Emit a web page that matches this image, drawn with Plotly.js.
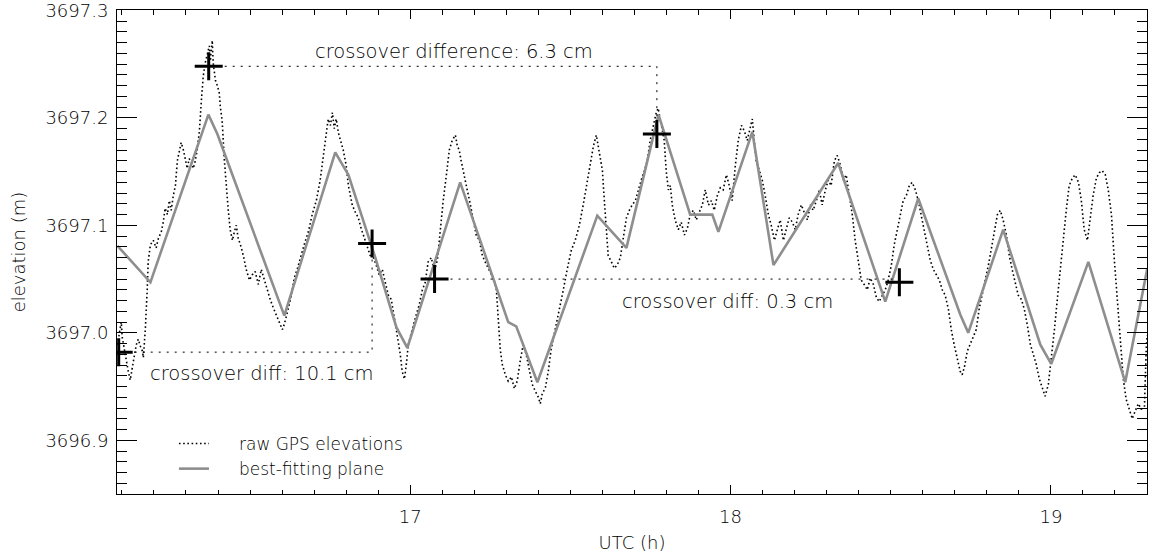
<!DOCTYPE html>
<html>
<head>
<meta charset="utf-8">
<script src="https://cdn.plot.ly/plotly-3.0.1.min.js"></script>
<style>
  html, body { margin: 0; padding: 0; background: #fff; }
  #chart { width: 1153px; height: 558px; }
</style>
</head>
<body>
<div id="chart"></div>
<script>
// Raw GPS elevation samples (UTC hours, metres)
const rawTime = [
  16.086,16.092,16.098,16.101,16.107,16.114,16.120,16.126,16.132,16.139,16.145,16.151,16.157,16.164,16.167,16.173,16.179,16.182,16.189,16.198,
  16.207,16.214,16.223,16.229,16.235,16.242,16.248,16.254,16.260,16.267,16.273,16.279,16.285,16.292,16.298,16.304,16.310,16.317,16.323,16.329,
  16.335,16.342,16.348,16.354,16.360,16.367,16.373,16.376,16.382,16.385,16.392,16.398,16.404,16.407,16.413,16.420,16.426,16.432,16.438,16.445,
  16.451,16.457,16.463,16.470,16.479,16.488,16.498,16.507,16.516,16.526,16.535,16.545,16.554,16.563,16.573,16.582,16.591,16.601,16.607,16.613,
  16.619,16.629,16.638,16.648,16.657,16.669,16.682,16.694,16.707,16.719,16.729,16.738,16.744,16.751,16.757,16.763,16.769,16.776,16.782,16.791,
  16.800,16.807,16.813,16.819,16.829,16.838,16.847,16.857,16.866,16.875,16.885,16.894,16.903,16.913,16.922,16.932,16.941,16.950,16.960,16.969,
  16.975,16.982,16.988,16.994,17.000,17.010,17.019,17.028,17.038,17.047,17.056,17.066,17.075,17.085,17.094,17.103,17.113,17.122,17.131,17.141,
  17.147,17.153,17.159,17.169,17.178,17.188,17.197,17.206,17.216,17.225,17.234,17.244,17.253,17.262,17.269,17.275,17.281,17.287,17.297,17.306,
  17.316,17.325,17.334,17.344,17.353,17.362,17.372,17.381,17.390,17.400,17.406,17.412,17.422,17.431,17.440,17.453,17.465,17.478,17.490,17.503,
  17.515,17.528,17.540,17.553,17.562,17.572,17.581,17.587,17.593,17.600,17.606,17.612,17.618,17.628,17.637,17.646,17.656,17.665,17.675,17.684,
  17.693,17.703,17.712,17.721,17.731,17.740,17.749,17.759,17.768,17.774,17.781,17.787,17.793,17.799,17.806,17.812,17.818,17.827,17.837,17.846,
  17.856,17.865,17.874,17.884,17.893,17.902,17.912,17.921,17.931,17.940,17.949,17.959,17.968,17.977,17.987,17.996,18.005,18.015,18.024,18.034,
  18.043,18.052,18.062,18.068,18.074,18.080,18.090,18.099,18.108,18.118,18.127,18.137,18.146,18.155,18.165,18.174,18.183,18.193,18.202,18.211,
  18.221,18.230,18.240,18.249,18.258,18.268,18.277,18.286,18.296,18.305,18.314,18.324,18.333,18.343,18.352,18.361,18.371,18.380,18.389,18.399,
  18.408,18.417,18.427,18.436,18.446,18.455,18.464,18.474,18.483,18.492,18.502,18.511,18.520,18.530,18.539,18.549,18.558,18.567,18.577,18.586,
  18.595,18.605,18.614,18.623,18.633,18.642,18.652,18.661,18.670,18.680,18.689,18.698,18.708,18.717,18.723,18.730,18.739,18.748,18.758,18.767,
  18.776,18.786,18.795,18.805,18.814,18.823,18.833,18.842,18.851,18.861,18.870,18.879,18.889,18.898,18.908,18.917,18.926,18.936,18.945,18.954,
  18.964,18.973,18.982,18.992,19.001,19.011,19.020,19.029,19.039,19.048,19.057,19.067,19.076,19.086,19.095,19.104,19.114,19.123,19.132,19.142,
  19.151,19.160,19.170,19.179,19.189,19.198,19.207,19.217,19.226,19.235,19.245,19.254,19.263,19.273,19.282,19.292,19.298,19.301
];
const rawElev = [
  3696.989,3697.001,3697.010,3696.996,3696.985,3696.973,3696.964,3696.956,3696.968,3696.979,3696.989,3696.994,3696.988,3696.983,3696.977,3697.003,3697.040,3697.066,3697.082,3697.086,
  3697.079,3697.088,3697.094,3697.103,3697.116,3697.110,3697.123,3697.114,3697.127,3697.137,3697.160,3697.170,3697.177,3697.170,3697.160,3697.153,3697.162,3697.159,3697.153,3697.160,
  3697.170,3697.188,3697.216,3697.239,3697.251,3697.260,3697.267,3697.253,3697.272,3697.251,3697.235,3697.230,3697.223,3697.211,3697.197,3697.160,3697.133,3697.114,3697.096,3697.086,
  3697.094,3697.100,3697.088,3697.082,3697.072,3697.059,3697.049,3697.054,3697.057,3697.045,3697.059,3697.049,3697.038,3697.031,3697.023,3697.017,3697.010,3697.003,3697.008,3697.014,
  3697.022,3697.035,3697.051,3697.060,3697.070,3697.082,3697.094,3697.110,3697.123,3697.142,3697.165,3697.188,3697.199,3697.193,3697.205,3697.190,3697.199,3697.186,3697.179,3697.170,
  3697.156,3697.137,3697.128,3697.119,3697.112,3697.107,3697.097,3697.088,3697.079,3697.072,3697.070,3697.063,3697.054,3697.059,3697.047,3697.035,3697.031,3697.014,3696.998,3696.980,
  3696.964,3696.957,3696.971,3696.989,3696.996,3697.008,3697.017,3697.026,3697.040,3697.047,3697.066,3697.070,3697.057,3697.068,3697.097,3697.123,3697.147,3697.170,3697.179,3697.184,
  3697.174,3697.170,3697.160,3697.147,3697.133,3697.119,3697.103,3697.091,3697.086,3697.072,3697.066,3697.060,3697.054,3697.049,3697.040,3697.012,3696.985,3696.971,3696.961,3696.955,
  3696.959,3696.948,3696.955,3696.975,3696.989,3696.980,3696.966,3696.952,3696.946,3696.940,3696.934,3696.943,3696.949,3696.964,3696.985,3697.003,3697.022,3697.040,3697.059,3697.077,
  3697.086,3697.100,3697.119,3697.142,3697.160,3697.174,3697.184,3697.174,3697.165,3697.151,3697.123,3697.096,3697.072,3697.066,3697.060,3697.063,3697.070,3697.088,3697.107,3697.114,
  3697.119,3697.123,3697.133,3697.142,3697.151,3697.160,3697.179,3697.193,3697.205,3697.209,3697.199,3697.190,3697.179,3697.151,3697.133,3697.137,3697.119,3697.105,3697.096,3697.103,
  3697.091,3697.097,3697.110,3697.114,3697.105,3697.112,3697.119,3697.133,3697.119,3697.123,3697.114,3697.128,3697.135,3697.133,3697.147,3697.137,3697.123,3697.156,3697.179,3697.193,
  3697.188,3697.179,3697.190,3697.199,3697.179,3697.160,3697.151,3697.142,3697.128,3697.110,3697.100,3697.086,3697.096,3697.105,3697.086,3697.096,3697.107,3697.103,3697.096,3697.110,
  3697.119,3697.112,3697.105,3697.119,3697.114,3697.123,3697.133,3697.119,3697.133,3697.142,3697.137,3697.160,3697.165,3697.156,3697.142,3697.147,3697.128,3697.110,3697.086,3697.066,
  3697.049,3697.045,3697.040,3697.051,3697.045,3697.033,3697.029,3697.035,3697.040,3697.049,3697.063,3697.082,3697.096,3697.110,3697.123,3697.128,3697.137,3697.140,3697.133,3697.123,
  3697.110,3697.096,3697.082,3697.068,3697.059,3697.054,3697.049,3697.040,3697.035,3697.022,3697.003,3696.989,3696.975,3696.964,3696.961,3696.968,3696.983,3696.989,3696.996,3697.003,
  3697.022,3697.035,3697.049,3697.063,3697.077,3697.091,3697.110,3697.114,3697.105,3697.091,3697.072,3697.059,3697.045,3697.035,3697.031,3697.022,3697.008,3696.989,3696.980,3696.971,
  3696.957,3696.948,3696.941,3696.952,3696.975,3697.003,3697.031,3697.059,3697.086,3697.114,3697.137,3697.144,3697.147,3697.140,3697.123,3697.096,3697.086,3697.110,3697.128,3697.144,
  3697.149,3697.151,3697.147,3697.133,3697.110,3697.068,3697.031,3696.994,3696.957,3696.938,3696.929,3696.920,3696.927,3696.934,3696.929,3696.931,3696.989,3696.998
];

// Best-fitting plane evaluated along the track
const planeTime = [16.086,16.189,16.370,16.398,16.607,16.766,16.807,16.891,16.957,16.991,17.156,17.281,17.306,17.331,17.397,17.584,17.675,17.775,17.874,17.943,17.962,18.068,18.134,18.336,18.483,18.586,18.717,18.742,18.851,18.967,19.001,19.117,19.232,19.301];
const planeElev = [3697.081,3697.047,3697.203,3697.185,3697.016,3697.168,3697.147,3697.070,3697.005,3696.986,3697.140,3697.031,3697.010,3697.006,3696.954,3697.109,3697.079,3697.203,3697.110,3697.110,3697.094,3697.187,3697.063,3697.158,3697.029,3697.125,3697.017,3697.000,3697.096,3696.989,3696.971,3697.066,3696.954,3697.060];

// Crossover points: pairs of track crossings
const crossTime = [16.090, 16.881, 16.371, 17.770, 17.076, 18.527];
const crossElev = [3696.982, 3697.083, 3697.248, 3697.185, 3697.050, 3697.047];
const crossLabels = ['crossover diff: 10.1 cm', 'crossover difference: 6.3 cm', 'crossover diff: 0.3 cm'];

// Axis ticks
const xTicks = [17, 18, 19];
const yTicks = [3696.9, 3697.0, 3697.1, 3697.2, 3697.3];

const FONT = '"DejaVu Sans", sans-serif';
const WEIGHT = 200;
const INK = '#000';
const PAD = '\u00a0\u00a0\u00a0\u00a0\u2009';

// Bracket connecting each crossover pair: horizontal from the first point, then vertical to the second
const connectors = [0, 1, 2].map(k => {
  const a = 2 * k, b = 2 * k + 1;
  return {
    x: [crossTime[a], crossTime[b], crossTime[b]],
    y: [crossElev[a], crossElev[a], crossElev[b]],
    type: 'scatter', mode: 'lines', showlegend: false, hoverinfo: 'skip',
    line: { color: '#000', width: 1, dash: '2px,6px' }
  };
});

const traces = [
  {
    x: rawTime, y: rawElev, type: 'scatter', mode: 'lines',
    name: PAD + 'raw GPS elevations',
    line: { color: '#000', width: 1.6, dash: '1.6px,2.6px' }
  },
  {
    x: planeTime, y: planeElev, type: 'scatter', mode: 'lines',
    name: PAD + 'best-fitting plane',
    line: { color: '#8e8e8e', width: 2.6 }
  },
  ...connectors,
  {
    x: crossTime, y: crossElev, type: 'scatter', mode: 'markers',
    showlegend: false, hoverinfo: 'skip',
    marker: { symbol: 'cross-thin', size: 20, line: { color: '#000', width: 3 } }
  }
];

const txt = (size) => ({ family: FONT, size: size, color: INK, weight: WEIGHT });

const annotations = [
  { x: 16.538, y: 3696.962, text: crossLabels[0] },
  { x: 17.138, y: 3697.262, text: crossLabels[1] },
  { x: 17.989, y: 3697.029, text: crossLabels[2] }
].map(a => Object.assign(a, {
  xref: 'x', yref: 'y', showarrow: false, xanchor: 'center', yanchor: 'middle',
  font: txt(19.5)
}));

const axisCommon = {
  showline: true, linecolor: '#000', linewidth: 1, mirror: 'allticks',
  ticks: 'inside', tickcolor: '#000', tickwidth: 1,
  showgrid: false, zeroline: false, ticklabeloverflow: 'allow',
  tickfont: txt(18)
};

const layout = {
  width: 1153, height: 558,
  margin: { l: 117, r: 6, t: 10, b: 64 },
  paper_bgcolor: '#fff', plot_bgcolor: '#fff',
  font: txt(18),
  showlegend: true,
  legend: {
    x: 0.0553, y: 0.0775, xanchor: 'left', yanchor: 'middle',
    bgcolor: 'rgba(0,0,0,0)', borderwidth: 0,
    font: txt(17),
    tracegroupgap: 0
  },
  xaxis: Object.assign({}, axisCommon, {
    range: [16.0847, 19.30],
    tickmode: 'array', tickvals: xTicks, ticktext: xTicks.map(String),
    ticklen: 9, ticklabelstandoff: 6,
    minor: { dtick: 0.1, tick0: 16, ticklen: 4.5, ticks: 'inside', tickcolor: '#000', tickwidth: 1, showgrid: false },
    title: { text: 'UTC (h)', font: txt(18), standoff: 10 }
  }),
  yaxis: Object.assign({}, axisCommon, {
    range: [3696.85, 3697.3004],
    tickmode: 'array', tickvals: yTicks, ticktext: yTicks.map(v => v.toFixed(1)),
    ticklen: 20, ticklabelstandoff: 4,
    minor: { dtick: 0.01, tick0: 3696.85, ticklen: 10, ticks: 'inside', tickcolor: '#000', tickwidth: 1, showgrid: false },
    title: { text: 'elevation (m)', font: txt(18), standoff: 15 }
  }),
  annotations: annotations
};

Plotly.newPlot('chart', traces, layout, { displayModeBar: false, staticPlot: true });
</script>
</body>
</html>
